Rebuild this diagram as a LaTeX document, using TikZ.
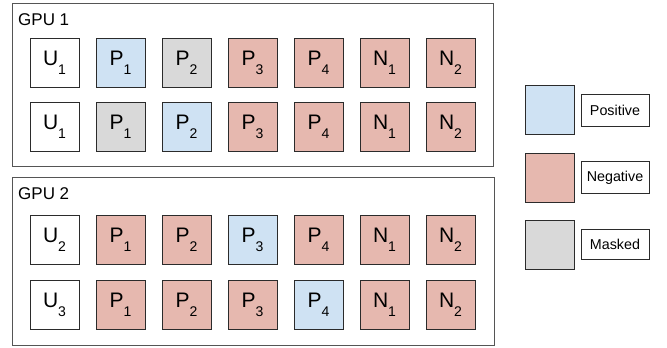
\documentclass[tikz,border=0pt]{standalone}
\usepackage{fontspec}
\setmainfont{Liberation Sans}
\definecolor{pos}{HTML}{CFE2F3}
\definecolor{neg}{HTML}{E6B8AF}
\definecolor{msk}{HTML}{D9D9D9}
\definecolor{edgec}{HTML}{2B2B2B}
\definecolor{gpuedge}{HTML}{555555}
\newcommand{\lbl}[2]{#1\raisebox{-0.42em}{\fontsize{14}{14}\selectfont #2}}
\tikzset{
  cell/.style={draw=edgec, line width=0.8pt, minimum size=49pt, inner sep=0pt, font=\fontsize{21}{21}\selectfont},
  posc/.style={cell, fill=pos},
  negc/.style={cell, fill=neg},
  mskc/.style={cell, fill=msk},
  usr/.style={cell, fill=white},
  gpubox/.style={draw=gpuedge, line width=0.8pt, inner sep=0pt},
  gpulabel/.style={anchor=west, inner sep=0pt, font=\fontsize{17}{17}\selectfont},
  legtext/.style={draw=edgec, line width=0.8pt, minimum width=68pt, minimum height=32pt, inner sep=0pt, font=\fontsize{14.3}{14.3}\selectfont},
}
\begin{document}
\begin{tikzpicture}[x=1pt,y=-1pt]
\useasboundingbox (0,0) rectangle (667,348);
\fill[white] (0,0) rectangle (667,348);
% GPU boxes
\node[gpubox, minimum width=481pt, minimum height=163pt] (gpu1) at (252.5,84.5) {};
\node[gpubox, minimum width=482pt, minimum height=168pt] (gpu2) at (253,261) {};
\node[gpulabel] (g1l) at (18,20) {GPU 1};
\node[gpulabel] (g2l) at (18,194) {GPU 2};
% Row 1
\node[usr]  (r1c1) at (54.5,62.5) {\lbl{U}{1}};
\node[posc] (r1c2) at (120.5,62.5) {\lbl{P}{1}};
\node[mskc] (r1c3) at (186.5,62.5) {\lbl{P}{2}};
\node[negc] (r1c4) at (252.5,62.5) {\lbl{P}{3}};
\node[negc] (r1c5) at (318.5,62.5) {\lbl{P}{4}};
\node[negc] (r1c6) at (384.5,62.5) {\lbl{N}{1}};
\node[negc] (r1c7) at (450.5,62.5) {\lbl{N}{2}};
% Row 2
\node[usr]  (r2c1) at (54.5,127) {\lbl{U}{1}};
\node[mskc] (r2c2) at (120.5,127) {\lbl{P}{1}};
\node[posc] (r2c3) at (186.5,127) {\lbl{P}{2}};
\node[negc] (r2c4) at (252.5,127) {\lbl{P}{3}};
\node[negc] (r2c5) at (318.5,127) {\lbl{P}{4}};
\node[negc] (r2c6) at (384.5,127) {\lbl{N}{1}};
\node[negc] (r2c7) at (450.5,127) {\lbl{N}{2}};
% Row 3
\node[usr]  (r3c1) at (54.5,240) {\lbl{U}{2}};
\node[negc] (r3c2) at (120.5,240) {\lbl{P}{1}};
\node[negc] (r3c3) at (186.5,240) {\lbl{P}{2}};
\node[posc] (r3c4) at (252.5,240) {\lbl{P}{3}};
\node[negc] (r3c5) at (318.5,240) {\lbl{P}{4}};
\node[negc] (r3c6) at (384.5,240) {\lbl{N}{1}};
\node[negc] (r3c7) at (450.5,240) {\lbl{N}{2}};
% Row 4
\node[usr]  (r4c1) at (54.5,304.5) {\lbl{U}{3}};
\node[negc] (r4c2) at (120.5,304.5) {\lbl{P}{1}};
\node[negc] (r4c3) at (186.5,304.5) {\lbl{P}{2}};
\node[negc] (r4c4) at (252.5,304.5) {\lbl{P}{3}};
\node[posc] (r4c5) at (318.5,304.5) {\lbl{P}{4}};
\node[negc] (r4c6) at (384.5,304.5) {\lbl{N}{1}};
\node[negc] (r4c7) at (450.5,304.5) {\lbl{N}{2}};
% Legend
\node[posc] (lpos) at (549.5,110) {};
\node[negc] (lneg) at (549.5,177.5) {};
\node[mskc] (lmsk) at (549.5,245) {};
\node[legtext] (tpos) at (615,110) {Positive};
\node[legtext] (tneg) at (615,177.5) {Negative};
\node[legtext, minimum height=30pt] (tmsk) at (615,244) {Masked};
\end{tikzpicture}
\end{document}
